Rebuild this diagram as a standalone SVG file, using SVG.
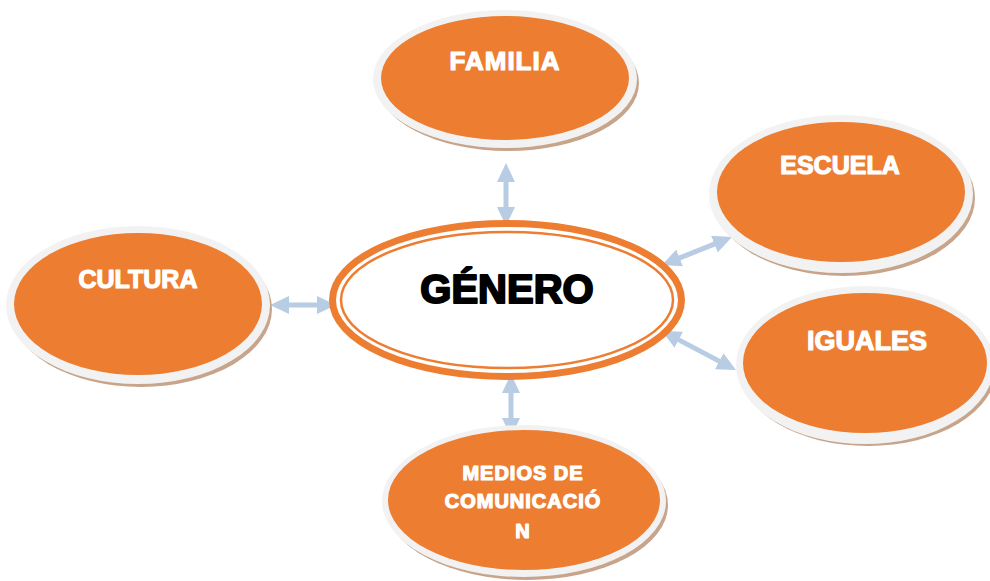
<svg xmlns="http://www.w3.org/2000/svg" width="990" height="581" viewBox="0 0 990 581">
<style>
.shadow{fill:#C7A48A}
.ring{fill:#F2F2F2}
.fill{fill:#ED7D31}
.lbl{font-family:"Liberation Sans",Arial,sans-serif;font-weight:bold;fill:#FFFFFF;stroke:#FFFFFF;stroke-width:1.2;stroke-linejoin:round;text-anchor:middle}
.conn{stroke:#B8CCE4;stroke-width:5;fill:none;marker-start:url(#ah);marker-end:url(#ah)}
</style>
<defs>
<marker id="ah" markerUnits="userSpaceOnUse" markerWidth="19" markerHeight="18" viewBox="0 0 19 18" refX="8" refY="9" orient="auto-start-reverse">
<path d="M0,0 L19,9 L0,18 z" fill="#B8CCE4"/>
</marker>
</defs>
<rect width="990" height="581" fill="#FFFFFF"/>

<g id="connectors">
<line class="conn" x1="506" y1="174" x2="506" y2="215"/>
<line class="conn" x1="672.2" y1="260.9" x2="721.8" y2="241.1"/>
<line class="conn" x1="671.7" y1="336.1" x2="726.3" y2="364.9"/>
<line class="conn" x1="281" y1="305" x2="325" y2="305"/>
<line class="conn" x1="511" y1="385" x2="511" y2="426"/>
</g>

<g id="familia">
<ellipse class="shadow" cx="508" cy="83" rx="131" ry="68"/>
<ellipse class="ring" cx="505" cy="79" rx="132" ry="69"/>
<ellipse class="fill" cx="505" cy="78" rx="124" ry="62"/>
<text class="lbl" x="505" y="70" font-size="26" letter-spacing="1">FAMILIA</text>
</g>

<g id="escuela">
<ellipse class="shadow" cx="844" cy="198" rx="131" ry="78"/>
<ellipse class="ring" cx="841" cy="194" rx="132" ry="79"/>
<ellipse class="fill" cx="841" cy="192" rx="124" ry="70"/>
<text class="lbl" x="840" y="174" font-size="25">ESCUELA</text>
</g>

<g id="cultura">
<ellipse class="shadow" cx="141" cy="309" rx="131" ry="78"/>
<ellipse class="ring" cx="138" cy="305" rx="132" ry="79"/>
<ellipse class="fill" cx="138" cy="304" rx="124" ry="71"/>
<text class="lbl" x="138" y="288" font-size="25">CULTURA</text>
</g>

<g id="iguales">
<ellipse class="shadow" cx="868" cy="369" rx="128" ry="77"/>
<ellipse class="ring" cx="865" cy="365" rx="129" ry="79"/>
<ellipse class="fill" cx="865" cy="363" rx="122" ry="70"/>
<text class="lbl" x="867" y="350" font-size="27">IGUALES</text>
</g>

<g id="medios">
<ellipse class="shadow" cx="527" cy="505" rx="141" ry="75"/>
<ellipse class="ring" cx="524" cy="501" rx="142" ry="76"/>
<ellipse class="fill" cx="524" cy="500" rx="136" ry="70"/>
<text class="lbl" x="523" y="480" font-size="20" letter-spacing="1">MEDIOS DE</text>
<text class="lbl" x="523" y="508" font-size="20" letter-spacing="1">COMUNICACIÓ</text>
<text class="lbl" x="523" y="538" font-size="20" letter-spacing="1">N</text>
</g>

<g id="genero">
<ellipse cx="507" cy="300" rx="174.5" ry="76.5" fill="#FFFFFF" stroke="#ED7D31" stroke-width="7"/>
<ellipse cx="507" cy="300" rx="166" ry="68" fill="none" stroke="#ED7D31" stroke-width="2.5"/>
<text x="507" y="303" font-family="'Liberation Sans',Arial,sans-serif" font-weight="bold" font-size="40" fill="#000000" stroke="#000000" stroke-width="2" stroke-linejoin="round" text-anchor="middle">GÉNERO</text>
</g>
</svg>
